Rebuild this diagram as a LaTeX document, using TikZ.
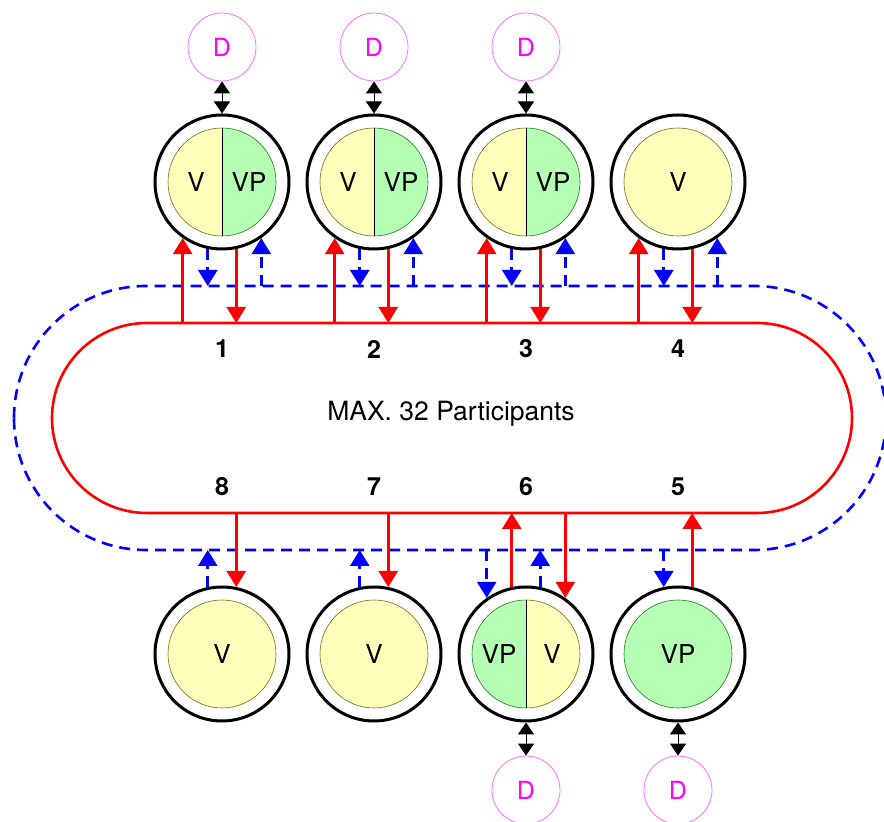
\documentclass[tikz,border=0pt]{standalone}
\usepackage{fontspec}
\setmainfont{TeX Gyre Heros}
\usetikzlibrary{arrows.meta}
\definecolor{yel}{RGB}{255,255,187}
\definecolor{grn}{RGB}{180,255,180}
\definecolor{yelb}{RGB}{110,110,20}
\definecolor{grnb}{RGB}{30,120,30}
\definecolor{busred}{RGB}{255,0,0}
\definecolor{busblue}{RGB}{0,0,255}
\definecolor{dmag}{RGB}{255,0,255}
\definecolor{dring}{RGB}{255,110,255}
\tikzset{
  outer/.style={circle,draw=black,line width=3pt,minimum size=134pt,inner sep=0pt},
  devd/.style={circle,draw=dring,line width=0.8pt,minimum size=68pt,inner sep=0pt,text=dmag,font=\fontsize{25}{30}\selectfont},
  lbl/.style={font=\fontsize{26}{30}\selectfont,inner sep=0pt},
  num/.style={font=\fontsize{25}{28}\selectfont\bfseries,inner sep=0pt},
  redarr/.style={draw=busred,line width=2.6pt,-{Triangle[length=16pt,width=19pt]}},
  bluearr/.style={draw=busblue,line width=2.6pt,dash pattern=on 11pt off 7pt,-{Triangle[length=16pt,width=19pt]}},
  dblarr/.style={line width=1pt,{Triangle[length=12pt,width=16pt]}-{Triangle[length=12pt,width=16pt]}},
  fully/.style={circle,draw=yelb,fill=yel,line width=0.6pt,minimum size=108pt,inner sep=0pt,font=\fontsize{26}{30}\selectfont},
  fullg/.style={circle,draw=grnb,fill=grn,line width=0.6pt,minimum size=108pt,inner sep=0pt,font=\fontsize{26}{30}\selectfont},
  redloop/.style={draw=busred,line width=2.6pt},
  blueloop/.style={draw=busblue,line width=2.6pt,dash pattern=on 11pt off 7pt}
}
\begin{document}
\begin{tikzpicture}[x=1pt,y=1pt]
\useasboundingbox (0,0) rectangle (884,822);
\coordinate (bustop) at (0,499);
\coordinate (busbot) at (0,309);
\coordinate (bluetop) at (0,536);
\coordinate (bluebot) at (0,272);

% bus loops
\draw[blueloop,rounded corners=132pt] (14,272) rectangle (886,536);
\draw[redloop,rounded corners=95pt] (52,309) rectangle (852,499);
\node[font=\fontsize{26.5}{30}\selectfont] (max) at (451,408) {MAX. 32 Participants};

% split inner circles (top 1-3: V | VP)
\foreach \i/\x in {1/222,2/374,3/526}{
  \fill[yel] (\x,694) arc[start angle=90,end angle=270,radius=54] -- cycle;
  \fill[grn] (\x,586) arc[start angle=-90,end angle=90,radius=54] -- cycle;
  \draw[yelb,line width=0.6pt] (\x,694) arc[start angle=90,end angle=270,radius=54];
  \draw[grnb,line width=0.6pt] (\x,586) arc[start angle=-90,end angle=90,radius=54];
  \draw[line width=0.8pt] (\x,694) -- (\x,586);
  \node[lbl] (v\i) at (\x-26,640) {V};
  \node[lbl] (vp\i) at (\x+27,640) {VP};
}
% bottom 6: VP | V
\fill[grn] (526,222) arc[start angle=90,end angle=270,radius=54] -- cycle;
\fill[yel] (526,114) arc[start angle=-90,end angle=90,radius=54] -- cycle;
\draw[grnb,line width=0.6pt] (526,222) arc[start angle=90,end angle=270,radius=54];
\draw[yelb,line width=0.6pt] (526,114) arc[start angle=-90,end angle=90,radius=54];
\draw[line width=0.8pt] (526,222) -- (526,114);
\node[lbl] (vp6) at (499,168) {VP};
\node[lbl] (v6) at (552,168) {V};

% full inner circles
\node[fully] (in4) at (678,640) {V};
\node[fully] (in8) at (222,168) {V};
\node[fully] (in7) at (374,168) {V};
\node[fullg] (in5) at (678,168) {VP};

% outer rings
\node[outer] (p1) at (222,640) {};
\node[outer] (p2) at (374,640) {};
\node[outer] (p3) at (526,640) {};
\node[outer] (p4) at (678,640) {};
\node[outer] (p8) at (222,168) {};
\node[outer] (p7) at (374,168) {};
\node[outer] (p6) at (526,168) {};
\node[outer] (p5) at (678,168) {};

% D devices
\node[devd] (d1) at (222,775) {D};
\node[devd] (d2) at (374,775) {D};
\node[devd] (d3) at (526,775) {D};
\node[devd] (d6) at (526,32) {D};
\node[devd] (d5) at (678,32) {D};
\draw[dblarr] (d1) -- (p1);
\draw[dblarr] (d2) -- (p2);
\draw[dblarr] (d3) -- (p3);
\draw[dblarr] (p6) -- (d6);
\draw[dblarr] (p5) -- (d5);

% numbers
\node[num] (n1) at (222,473) {1};
\node[num] (n2) at (374,473) {2};
\node[num] (n3) at (526,473) {3};
\node[num] (n4) at (678,473) {4};
\node[num] (n8) at (222,335) {8};
\node[num] (n7) at (374,335) {7};
\node[num] (n6) at (526,335) {6};
\node[num] (n5) at (678,335) {5};

% top connections
\foreach \i in {1,2,3,4}{
  \draw[redarr] (p\i.235 |- bustop) -- (p\i.235);
  \draw[bluearr] (p\i.258) -- (p\i.258 |- bluetop);
  \draw[redarr] (p\i.282) -- (p\i.282 |- bustop);
  \draw[bluearr] (p\i.305 |- bluetop) -- (p\i.305);
}
% bottom connections
\foreach \i in {8,7}{
  \draw[bluearr] (p\i.102) -- (p\i.102 |- bluebot);
  \draw[redarr] (p\i.78 |- busbot) -- (p\i.78);
}
\draw[bluearr] (p6.125 |- bluebot) -- (p6.125);
\draw[redarr] (p6.102) -- (p6.102 |- busbot);
\draw[bluearr] (p6.78) -- (p6.78 |- bluebot);
\draw[redarr] (p6.55 |- busbot) -- (p6.55);
\draw[bluearr] (p5.102 |- bluebot) -- (p5.102);
\draw[redarr] (p5.78) -- (p5.78 |- busbot);
\end{tikzpicture}
\end{document}
